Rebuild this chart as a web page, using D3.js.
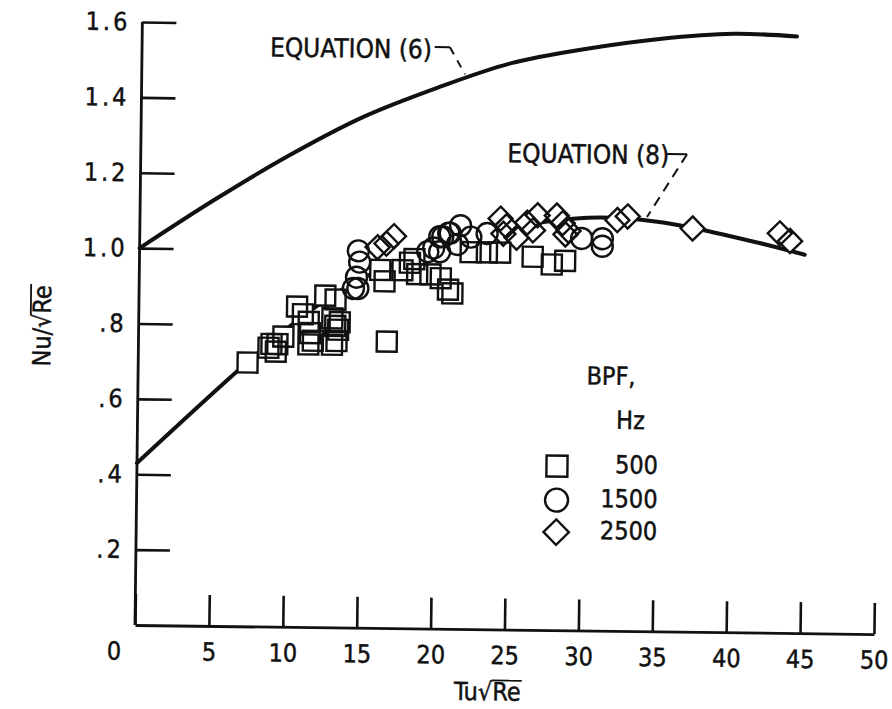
<!DOCTYPE html>
<html><head><meta charset="utf-8">
<script src="https://cdn.jsdelivr.net/npm/d3@7/dist/d3.min.js"></script>
<style>
body{margin:0;background:#fff;}
svg text{font-family:"Liberation Sans Narrow","DejaVu Sans Condensed","Liberation Sans",sans-serif;fill:#111;stroke:#111;stroke-width:0.45px;}
</style></head><body>
<svg id="chart" width="892" height="709"></svg>
<script>
// ---- data ----
const xTicks=[0,5,10,15,20,25,30,35,40,45,50];
const yTicks=[0.2,0.4,0.6,0.8,1.0,1.2,1.4,1.6];
const yTickLabels=[".2",".4",".6",".8","1.0","1.2","1.4","1.6"];

const bpf500X=[7.4,8.8,9.0,9.4,9.8,9.3,10.7,11.1,11.5,11.6,11.5,11.8,12.6,13.3,13.1,13.3,13.5,13.4,13.1,13.6,16.8,16.3,16.6,17.8,18.6,18.8,18.3,19.7,20.4,20.9,21.2,22.4,23.5,24.4,26.6,27.9,28.8];
const bpf500Y=[0.70,0.74,0.75,0.75,0.77,0.73,0.85,0.83,0.81,0.78,0.75,0.76,0.88,0.87,0.82,0.80,0.79,0.76,0.75,0.81,0.76,0.95,0.92,0.95,0.98,0.94,0.97,0.94,0.93,0.90,0.89,1.00,1.00,1.00,0.99,0.97,0.98];

const bpf1500X=[14.8,14.9,14.7,14.8,14.5,20.3,19.9,20.5,21.0,21.7,19.5,20.3,21.5,22.4,23.5,20.9,29.9,31.3,31.3];
const bpf1500Y=[1.00,0.97,0.93,0.90,0.90,1.04,1.01,1.04,1.05,1.07,1.00,1.00,1.02,1.04,1.05,1.05,1.04,1.04,1.02];

const bpf2500X=[16.1,16.7,17.2,24.4,24.8,25.5,24.6,26.2,26.9,26.6,28.2,28.6,29.0,28.8,32.3,33.0,37.4,43.3,44.0];
const bpf2500Y=[1.01,1.02,1.04,1.09,1.07,1.04,1.05,1.08,1.10,1.06,1.10,1.08,1.06,1.05,1.09,1.10,1.07,1.06,1.04];

const eq6X=[0,5,10,15,20,25,30,35,40,44.3];
const eq6Y=[1.0,1.13,1.25,1.355,1.435,1.503,1.543,1.572,1.588,1.583];
const eq8X=[0,6.8,10,12.5,15,17.5,20,25,29.5,32,35,37.5,42,45];
const eq8Y=[0.43,0.68,0.79,0.865,0.925,0.97,1.01,1.066,1.093,1.096,1.087,1.071,1.033,1.004];

const legendTitle=["BPF,","Hz"];
const legendLabels=["500","1500","2500"];
const eq6Label="EQUATION (6)", eq8Label="EQUATION (8)";

// ---- layout ----
const svg=d3.select("#chart");
const x=d3.scaleLinear().domain([0,50]).range([135,874]);
const y=d3.scaleLinear().domain([0,1.6]).range([625,22]);
const g=svg.append("g").attr("transform","rotate(0.7,135,625)");
const ink="#111";

// axes
const xAxis=d3.axisBottom(x).tickValues(xTicks).tickSizeInner(-31).tickSizeOuter(0).tickPadding(17).tickFormat(d3.format("d"));
const gx=g.append("g").attr("transform","translate(0,625)").call(xAxis);
const yAxis=d3.axisLeft(y).tickValues(yTicks).tickSizeInner(-34).tickSizeOuter(0).tickPadding(12).tickFormat((d,i)=>yTickLabels[i]);
const gy=g.append("g").attr("transform","translate(135,0)").call(yAxis);
[gx,gy].forEach(a=>{
  a.select(".domain").attr("stroke",ink).attr("stroke-width",2.8);
  a.selectAll(".tick line").attr("stroke",ink).attr("stroke-width",2.6);
  a.selectAll(".tick text").attr("font-size",25).attr("fill",ink)
   .style("font-family",'"Liberation Sans Narrow","DejaVu Sans Condensed",sans-serif');
});
gy.selectAll(".tick text").style("letter-spacing","3px");
gx.selectAll(".tick text").filter(d=>d===0).attr("text-anchor","end").attr("x",-14);
gy.select(".domain").attr("d",`M0,${y(0)}V${y(1.6)}`);

// mask so the curve is hidden under markers
const defs=svg.append("defs");
const mask=defs.append("mask").attr("id","mk").attr("maskUnits","userSpaceOnUse")
  .attr("x",-100).attr("y",-100).attr("width",1100).attr("height",900);
mask.append("rect").attr("x",-100).attr("y",-100).attr("width",1100).attr("height",900).attr("fill","#fff");

const SQ=20, CR=10.5, DS=17;
function sq(sel){return sel.attr("x",d=>x(d[0])-SQ/2).attr("y",d=>y(d[1])-SQ/2).attr("width",SQ).attr("height",SQ);}
function ci(sel){return sel.attr("cx",d=>x(d[0])).attr("cy",d=>y(d[1])).attr("r",CR);}
function di(sel){return sel.attr("transform",d=>`translate(${x(d[0])},${y(d[1])}) rotate(45)`).attr("x",-DS/2).attr("y",-DS/2).attr("width",DS).attr("height",DS);}
const s500=bpf500X.map((v,i)=>[v,bpf500Y[i]]);
const s1500=bpf1500X.map((v,i)=>[v,bpf1500Y[i]]);
const s2500=bpf2500X.map((v,i)=>[v,bpf2500Y[i]]);
mask.selectAll(".m1").data(s500).join("rect").call(sq).attr("fill","#000");
mask.selectAll(".m2").data(s1500).join("circle").call(ci).attr("fill","#000");
mask.selectAll(".m3").data(s2500).join("rect").call(di).attr("fill","#000");

// curves
const line=d3.line().x(d=>x(d[0])).y(d=>y(d[1])).curve(d3.curveCatmullRom);
g.append("path").attr("d",line(eq6X.map((v,i)=>[v,eq6Y[i]]))).attr("fill","none").attr("stroke",ink).attr("stroke-width",4).attr("stroke-linecap","round");
g.append("path").attr("d",line(eq8X.map((v,i)=>[v,eq8Y[i]]))).attr("fill","none").attr("stroke",ink).attr("stroke-width",4).attr("stroke-linecap","round").attr("mask","url(#mk)");

// markers
const mk=g.append("g").attr("fill","none").attr("stroke",ink).attr("stroke-width",2.4);
mk.selectAll(".a").data(s500).join("rect").call(sq);
mk.selectAll(".b").data(s1500).join("circle").call(ci);
mk.selectAll(".c").data(s2500).join("rect").call(di);

// equation labels + leaders
const fontEq=26;
g.append("text").attr("x",x(8.66)).attr("y",y(1.513)).attr("font-size",fontEq).text(eq6Label);
g.append("path").attr("d",`M${x(19.8)},${y(1.543)}H${x(20.83)}`).attr("stroke",ink).attr("stroke-width",2);
g.append("path").attr("d",`M${x(20.83)},${y(1.543)}L${x(21.87)},${y(1.472)}`).attr("stroke",ink).attr("stroke-width",2).attr("stroke-dasharray","8,7");
g.append("text").attr("x",x(24.8)).attr("y",y(1.240)).attr("font-size",fontEq).text(eq8Label);
g.append("path").attr("d",`M${x(35.6)},${y(1.267)}H${x(36.96)}`).attr("stroke",ink).attr("stroke-width",2);
g.append("path").attr("d",`M${x(36.96)},${y(1.267)}L${x(34.3)},${y(1.099)}`).attr("stroke",ink).attr("stroke-width",2).attr("stroke-dasharray","10,7");

// legend
g.append("text").attr("x",608).attr("y",379).attr("text-anchor","middle").attr("font-size",25).text(legendTitle[0]);
g.append("text").attr("x",628).attr("y",423).attr("text-anchor","middle").attr("font-size",25).text(legendTitle[1]);
const rowY=[461,495,527];
const lg=g.append("g").attr("fill","none").attr("stroke",ink).attr("stroke-width",2.4);
lg.append("rect").attr("x",555-10.5).attr("y",rowY[0]-10.5).attr("width",21).attr("height",21);
lg.append("circle").attr("cx",555).attr("cy",rowY[1]).attr("r",11.5);
lg.append("rect").attr("transform",`translate(555,${rowY[2]}) rotate(45)`).attr("x",-9).attr("y",-9).attr("width",18).attr("height",18);
legendLabels.forEach((t,i)=>{
  g.append("text").attr("x",656).attr("y",rowY[i]+6.5).attr("text-anchor","end").attr("font-size",25).text(t);
});

// axis titles with radical overline
function radicalTitle(parent,cx,cy,rot,pre){
  const gg=parent.append("g").attr("transform",`translate(${cx},${cy}) rotate(${rot})`);
  const t=gg.append("text").attr("x",0).attr("y",0).attr("text-anchor","middle").attr("font-size",25).text(pre+"\u221ARe");
  const n=t.node();
  const full=n.getComputedTextLength();
  const a=n.getSubStringLength(0,pre.length+1);
  const x0=-full/2;
  gg.append("line").attr("x1",x0+a-1).attr("x2",x0+full+1).attr("y1",-20).attr("y2",-20).attr("stroke",ink).attr("stroke-width",1.8);
}
radicalTitle(g,488,696,0,"Tu");
radicalTitle(g,47,327,-90,"Nu/");
</script>
</body></html>
